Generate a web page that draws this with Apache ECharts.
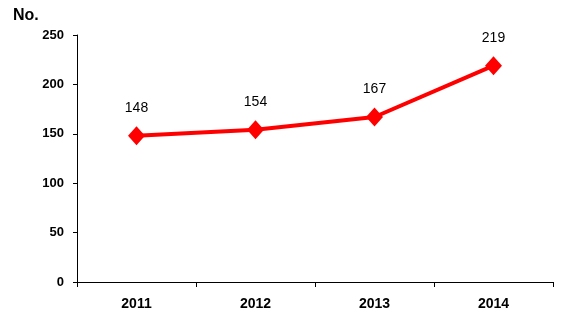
<!DOCTYPE html>
<html>
<head>
<meta charset="utf-8">
<script src="https://cdn.jsdelivr.net/npm/echarts@6/dist/echarts.min.js"></script>
<style>html,body{margin:0;padding:0;background:#fff;}#c{width:567px;height:317px;}</style>
</head>
<body>
<div id="c"></div>
<script>
var categories = ['2011', '2012', '2013', '2014'];
var values = [148, 154, 167, 219];
var yTicks = { min: 0, max: 250, interval: 50 };
var yTitle = 'No.';

var chart = echarts.init(document.getElementById('c'), null, { renderer: 'canvas' });
chart.setOption({
  backgroundColor: '#ffffff',
  animation: false,
  textStyle: { fontFamily: 'Liberation Sans, Arial, sans-serif' },
  title: {
    text: yTitle, left: 8, top: 3,
    textStyle: { fontFamily: 'Liberation Sans, Arial, sans-serif', fontSize: 16, fontWeight: 'bold', color: '#000' }
  },
  grid: { left: 77, right: 14, top: 35, bottom: 35, containLabel: false },
  xAxis: {
    type: 'category', data: categories, boundaryGap: true,
    axisLine: { lineStyle: { color: '#000', width: 1 } },
    axisTick: { show: true, length: 5, lineStyle: { color: '#000' } },
    axisLabel: { color: '#000', fontSize: 14, fontWeight: 'bold', margin: 15, fontFamily: 'Liberation Sans, Arial, sans-serif' },
    splitLine: { show: false }
  },
  yAxis: {
    type: 'value', min: yTicks.min, max: yTicks.max, interval: yTicks.interval,
    axisLine: { show: true, lineStyle: { color: '#000', width: 1 } },
    axisTick: { show: true, length: 4, lineStyle: { color: '#000' } },
    axisLabel: { color: '#000', fontSize: 13, fontWeight: 'bold', margin: 13, fontFamily: 'Liberation Sans, Arial, sans-serif' },
    splitLine: { show: false }
  },
  series: [{
    type: 'line', data: values,
    symbol: 'diamond', symbolSize: [17, 19],
    lineStyle: { color: '#ff0000', width: 4 },
    itemStyle: { color: '#ff0000' },
    label: { show: true, position: 'top', distance: 11, color: '#000', fontSize: 14, fontFamily: 'Liberation Sans, Arial, sans-serif' }
  }]
});
</script>
</body>
</html>
